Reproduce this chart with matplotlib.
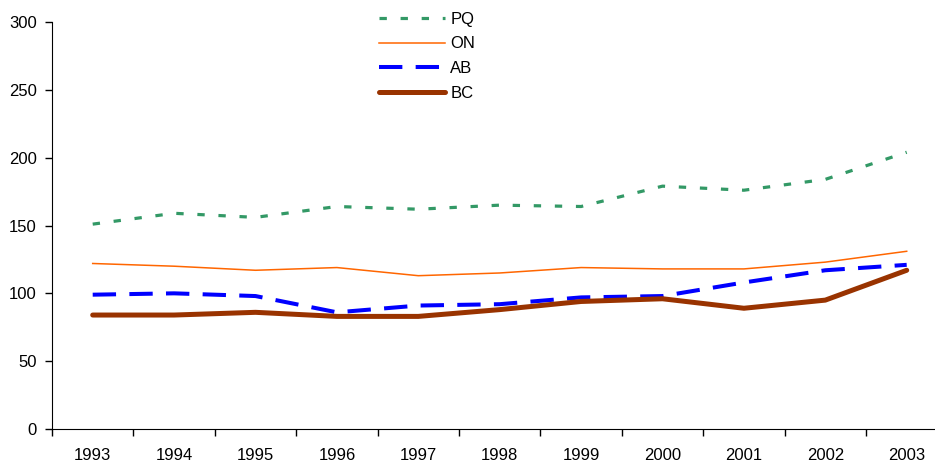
import matplotlib
matplotlib.use("Agg")
import matplotlib.pyplot as plt
import numpy as np

plt.rcParams['font.family'] = ['Liberation Sans', 'DejaVu Sans']

years = ['1993', '1994', '1995', '1996', '1997', '1998', '1999', '2000', '2001', '2002', '2003']
pq = [151, 159, 156, 164, 162, 165, 164, 179, 176, 184, 204]
on = [122, 120, 117, 119, 113, 115, 119, 118, 118, 123, 131]
ab = [99, 100, 98, 86, 91, 92, 97, 98, 108, 117, 121]
bc = [84, 84, 86, 83, 83, 88, 94, 96, 89, 95, 117]

fig = plt.figure(figsize=(9.35, 4.62), dpi=100)
ax = fig.add_axes([52/935, 33/462, (935-52)/935, (429-22)/462])

x = np.arange(len(years))
ax.plot(x, pq, color='#339966', lw=2.3, linestyle=(0, (2.3, 4.3)), dash_capstyle='butt', label='PQ')
ax.plot(x, on, color='#FF6600', lw=1.1, label='ON')
ax.plot(x, ab, color='#0000FF', lw=2.9, linestyle=(0, (5.8, 3.3)), dash_capstyle='butt', label='AB')
ax.plot(x, bc, color='#993300', lw=3.6, solid_capstyle='round', label='BC')

ax.set_yticks(range(0, 301, 50))
ax.set_xticks(x)
ax.set_xticklabels(years)
ax.set_xticks(np.arange(-0.5, 11, 1), minor=True)
ax.set_ylim(0, 300)
ax.set_xlim(-0.5, (935-52)/81.4 - 0.5)
ax.tick_params(axis='x', which='major', length=0, pad=14, labelsize=12)
ax.tick_params(axis='x', which='minor', length=5, direction='out', width=1)
ax.tick_params(axis='y', length=5, direction='out', labelsize=12, width=1, pad=6)
for s in ['top', 'right']:
    ax.spines[s].set_visible(False)
ax.spines['left'].set_color('#000000')
ax.spines['bottom'].set_color('#000000')

ax.legend(loc='upper left', bbox_to_anchor=(0.353, 1.062), frameon=False,
          handlelength=4.0, fontsize=12, labelspacing=0.58, handletextpad=0.3)

fig.savefig('out.png', dpi=100)
